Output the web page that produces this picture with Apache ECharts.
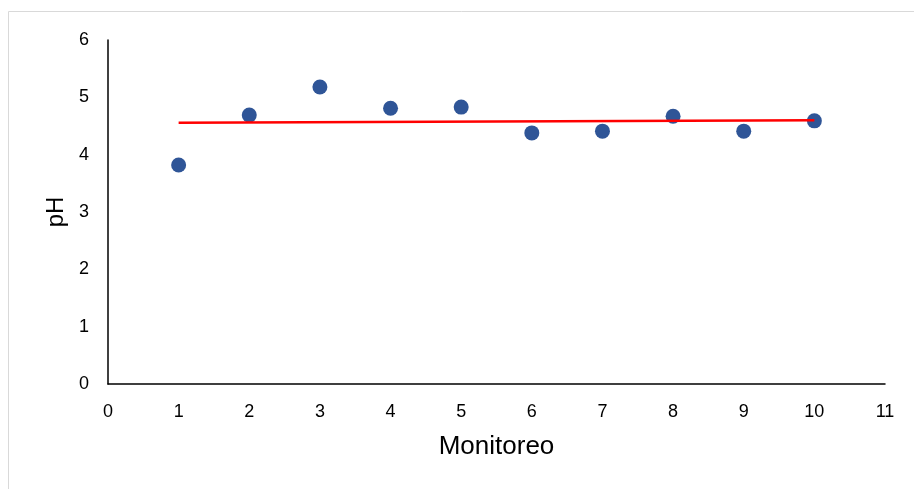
<!DOCTYPE html>
<html><head><meta charset="utf-8">
<script src="https://cdn.jsdelivr.net/npm/echarts@6/dist/echarts.min.js"></script>
<style>html,body{margin:0;padding:0;background:#fff}#c{width:914px;height:489px}</style>
</head><body><div id="c"></div>
<script>
const monitoreo = [1, 2, 3, 4, 5, 6, 7, 8, 9, 10];
const phValues = [3.82, 4.69, 5.18, 4.81, 4.83, 4.38, 4.41, 4.67, 4.41, 4.59];
const xTicks = [0, 1, 2, 3, 4, 5, 6, 7, 8, 9, 10, 11];
const yTicks = [0, 1, 2, 3, 4, 5, 6];

// linear trend line (least squares) from the data
const n = monitoreo.length;
const mx = monitoreo.reduce((a, b) => a + b, 0) / n;
const my = phValues.reduce((a, b) => a + b, 0) / n;
let sxy = 0, sxx = 0;
for (let i = 0; i < n; i++) { sxy += (monitoreo[i] - mx) * (phValues[i] - my); sxx += (monitoreo[i] - mx) ** 2; }
const slope = sxy / sxx, icpt = my - slope * mx;
const xFirst = monitoreo[0], xLast = monitoreo[n - 1];
const trend = [[xFirst, icpt + slope * xFirst], [xLast, icpt + slope * xLast]];

const chart = echarts.init(document.getElementById('c'));
const font = 'Liberation Sans, Arial, sans-serif';
chart.setOption({
  animation: false,
  graphic: [{ type: 'rect', shape: { x: 8.5, y: 11.5, width: 930, height: 500 }, style: { fill: 'none', stroke: '#d9d9d9', lineWidth: 1 }, z: -1 }],
  grid: { left: 108, right: 29, top: 40, bottom: 105 },
  xAxis: {
    type: 'value', min: xTicks[0], max: xTicks[xTicks.length - 1], interval: 1,
    name: 'Monitoreo', nameLocation: 'middle', nameGap: 50,
    nameTextStyle: { fontFamily: font, fontSize: 26, color: '#000' },
    axisLine: { show: true, onZero: false, lineStyle: { color: '#000', width: 1.5 } },
    axisTick: { show: false }, splitLine: { show: false },
    axisLabel: { fontFamily: font, fontSize: 18, color: '#000', margin: 19 }
  },
  yAxis: {
    type: 'value', min: yTicks[0], max: yTicks[yTicks.length - 1], interval: 1,
    name: 'pH', nameLocation: 'middle', nameGap: 39, nameRotate: 90,
    nameTextStyle: { fontFamily: font, fontSize: 24, color: '#000' },
    axisLine: { show: true, lineStyle: { color: '#000', width: 1.5 } },
    axisTick: { show: false }, splitLine: { show: false },
    axisLabel: { fontFamily: font, fontSize: 18, color: '#000', margin: 19 }
  },
  series: [
    { type: 'scatter', data: monitoreo.map((x, i) => [x, phValues[i]]), symbolSize: 15,
      itemStyle: { color: '#2F5597', opacity: 1 }, z: 2 },
    { type: 'line', data: trend, symbol: 'none', lineStyle: { color: '#FF0000', width: 2.5 }, z: 3 }
  ]
});
</script></body></html>
